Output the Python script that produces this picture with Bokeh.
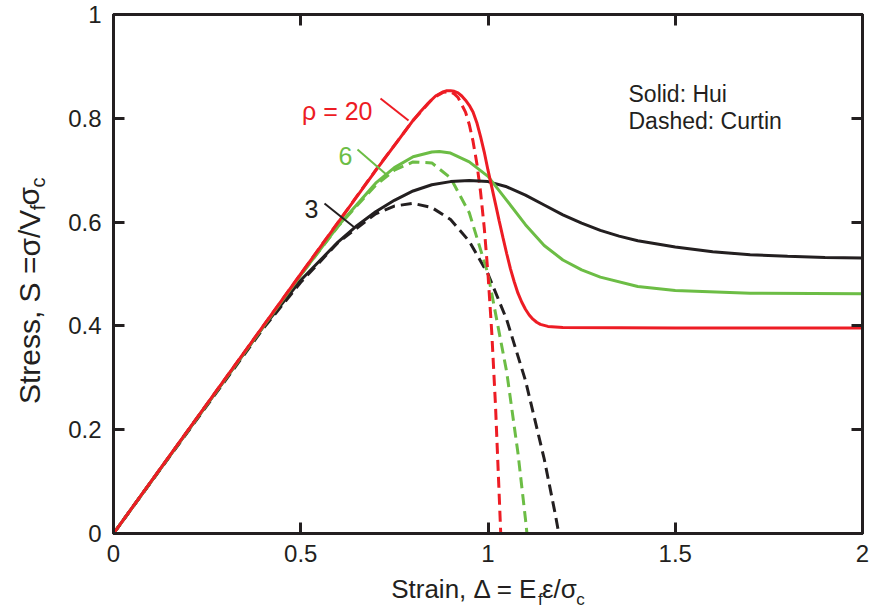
from bokeh.plotting import figure
from bokeh.models import Label, LinearAxis, FixedTicker, Range1d
from bokeh.embed import file_html
from bokeh.resources import INLINE

# ---------------- data ----------------
x_ticks = [0, 0.5, 1, 1.5, 2]
x_tick_labels = ["0", "0.5", "1", "1.5", "2"]
y_ticks = [0, 0.2, 0.4, 0.6, 0.8, 1]
y_tick_labels = ["0", "0.2", "0.4", "0.6", "0.8", "1"]

# axis titles: (text, is_subscript)
x_title_parts = [("Strain, Δ = E", False), ("f", True), ("ε/σ", False), ("c", True)]
y_title_parts = [("Stress, S =σ/V", False), ("f", True), ("σ", False), ("c", True)]

# Hui model (solid)
hui20_x = [0, 0.5, 0.7, 0.8, 0.82, 0.84, 0.86, 0.88, 0.89, 0.9, 0.91, 0.92, 0.93, 0.94,
           0.95, 0.96, 0.97, 0.98, 0.99, 1.0, 1.01, 1.02, 1.03, 1.04, 1.05, 1.06, 1.07,
           1.08, 1.09, 1.1, 1.11, 1.12, 1.13, 1.14, 1.16, 1.2, 1.5, 2.0]
hui20_y = [0, 0.5, 0.699, 0.796, 0.813, 0.829, 0.843, 0.851, 0.853, 0.853, 0.852, 0.849,
           0.843, 0.835, 0.825, 0.812, 0.792, 0.765, 0.735, 0.70, 0.668, 0.635, 0.602,
           0.57, 0.539, 0.51, 0.485, 0.463, 0.446, 0.432, 0.421, 0.413, 0.407, 0.403,
           0.399, 0.397, 0.396, 0.396]

hui6_x = [0, 0.5, 0.6, 0.7, 0.75, 0.8, 0.85, 0.87, 0.9, 0.95, 1.0, 1.05, 1.1, 1.15, 1.2,
          1.25, 1.3, 1.4, 1.5, 1.7, 2.0]
hui6_y = [0, 0.498, 0.593, 0.675, 0.705, 0.726, 0.735, 0.736, 0.733, 0.716, 0.688, 0.642,
          0.595, 0.555, 0.527, 0.508, 0.494, 0.476, 0.468, 0.463, 0.462]

hui3_x = [0, 0.4, 0.5, 0.55, 0.6, 0.65, 0.7, 0.75, 0.8, 0.85, 0.9, 0.95, 1.0, 1.05, 1.1,
          1.15, 1.2, 1.25, 1.3, 1.35, 1.4, 1.5, 1.6, 1.7, 1.8, 1.9, 2.0]
hui3_y = [0, 0.398, 0.488, 0.525, 0.562, 0.593, 0.62, 0.642, 0.66, 0.672, 0.678, 0.68,
          0.678, 0.668, 0.652, 0.633, 0.614, 0.598, 0.584, 0.573, 0.564, 0.552, 0.543,
          0.537, 0.534, 0.532, 0.531]

# Curtin model (dashed)
curtin20_x = [0, 0.5, 0.7, 0.8, 0.85, 0.86, 0.88, 0.89, 0.9, 0.91, 0.92, 0.94, 0.95, 0.96,
              0.97, 0.98, 0.99, 1.0, 1.01, 1.02, 1.03, 1.034]
curtin20_y = [0, 0.5, 0.7, 0.796, 0.836, 0.842, 0.85, 0.851, 0.851, 0.847, 0.84, 0.812,
              0.788, 0.756, 0.714, 0.659, 0.589, 0.5, 0.388, 0.247, 0.072, 0]

curtin6_x = [0, 0.5, 0.6, 0.7, 0.75, 0.8, 0.85, 0.9, 0.95, 1.0, 1.05, 1.08, 1.1, 1.104]
curtin6_y = [0, 0.498, 0.592, 0.671, 0.70, 0.716, 0.714, 0.685, 0.618, 0.5, 0.311, 0.155,
             0.028, 0]

curtin3_x = [0, 0.4, 0.5, 0.6, 0.7, 0.75, 0.8, 0.85, 0.9, 0.95, 1.0, 1.05, 1.1, 1.15,
             1.18, 1.189]
curtin3_y = [0, 0.395, 0.484, 0.561, 0.616, 0.631, 0.636, 0.628, 0.605, 0.563, 0.5, 0.412,
             0.295, 0.144, 0.036, 0]

RED = "#ED1C24"
GREEN = "#6CBD45"
BLACK = "#231F20"
FONT = "Liberation Sans"

# ---------------- layout constants ----------------
W, H = 871, 613
L, R, T, B = 113, 9, 14, 80
FW, FH = W - L - R, H - T - B


def px2x(px):
    return (px - L) / FW * 2.0


def py2y(py):
    return (H - B - py) / FH * 1.0


p = figure(width=W, height=H, x_range=Range1d(0, 2), y_range=Range1d(0, 1),
           output_backend="svg", toolbar_location=None,
           min_border_left=L, min_border_right=R, min_border_top=T, min_border_bottom=B,
           background_fill_color="white", border_fill_color="white")
p.grid.visible = False
p.outline_line_color = BLACK
p.outline_line_width = 3

xaxis = p.below[0]
yaxis = p.left[0]
top_axis = LinearAxis()
right_axis = LinearAxis()
p.add_layout(top_axis, "above")
p.add_layout(right_axis, "right")

TICK_FS = 24


def style_axis(ax, ticks, labels, show, standoff):
    ax.ticker = FixedTicker(ticks=ticks)
    ax.axis_line_color = BLACK
    ax.axis_line_width = 3
    ax.major_tick_line_color = BLACK
    ax.major_tick_line_width = 3
    ax.major_tick_in = 11
    ax.major_tick_out = 0
    ax.minor_tick_in = 0
    ax.minor_tick_out = 0
    ax.minor_tick_line_color = None
    if show:
        ax.major_label_overrides = dict(zip(ticks, labels))
        ax.major_label_text_font = FONT
        ax.major_label_text_font_size = f"{TICK_FS}px"
        ax.major_label_text_color = BLACK
        ax.major_label_standoff = standoff
    else:
        ax.major_label_text_font_size = "0px"
        ax.major_label_text_color = None
        ax.major_label_standoff = 0


style_axis(xaxis, x_ticks, x_tick_labels, True, 11)
style_axis(yaxis, y_ticks, y_tick_labels, True, 12)
style_axis(top_axis, x_ticks, x_tick_labels, False, 0)
style_axis(right_axis, y_ticks, y_tick_labels, False, 0)

# ---------------- curves ----------------
dash = "11 6"
p.line(curtin3_x, curtin3_y, line_color=BLACK, line_width=3, line_dash=dash)
p.line(curtin6_x, curtin6_y, line_color=GREEN, line_width=3, line_dash=dash)
p.line(curtin20_x, curtin20_y, line_color=RED, line_width=3, line_dash=dash)
p.line(hui3_x, hui3_y, line_color=BLACK, line_width=3)
p.line(hui6_x, hui6_y, line_color=GREEN, line_width=3)
p.line(hui20_x, hui20_y, line_color=RED, line_width=3)

# ---------------- leader lines and curve labels ----------------
p.segment(x0=[px2x(380), px2x(357), px2x(324)], y0=[py2y(98), py2y(149), py2y(203)],
          x1=[px2x(408), px2x(387), px2x(354)], y1=[py2y(120), py2y(175), py2y(227)],
          line_color=[RED, GREEN, BLACK], line_width=2)

for txt, col, px, py, align in [("ρ = 20", RED, 372, 110, "right"),
                                ("6", GREEN, 345, 155, "center"),
                                ("3", BLACK, 311, 208, "center")]:
    p.add_layout(Label(x=px2x(px), y=py2y(py), text=txt, text_color=col,
                       text_font=FONT, text_font_size="25px", text_align=align,
                       text_baseline="alphabetic"))

for txt, py in [("Solid: Hui", 93), ("Dashed: Curtin", 120)]:
    p.add_layout(Label(x=px2x(628), y=py2y(py), text=txt, text_color=BLACK,
                       text_font=FONT, text_font_size="23px", text_align="left",
                       text_baseline="alphabetic"))

# ---------------- axis titles (built from extra label-only axes) ----------------
EM = {"S": .667, "t": .278, "r": .333, "a": .556, "i": .222, "n": .556, ",": .278,
      " ": .278, "Δ": .668, "=": .584, "E": .667, "f": .278, "ε": .446, "/": .278,
      "σ": .573, "c": .5, "e": .556, "s": .5, "V": .667}


def tw(s, size):
    return sum(EM.get(ch, 0.55) for ch in s) * size


def piece_centers(parts, start, direction, main, sub):
    out_main, out_sub = [], []
    cur = start
    for txt, is_sub in parts:
        w = tw(txt, sub if is_sub else main)
        (out_sub if is_sub else out_main).append((cur + direction * w / 2, txt))
        cur += direction * w
    return out_main, out_sub


def title_axis(items, conv, size, standoff, orientation):
    ticks = [conv(c) for c, _ in items]
    labels = [t for _, t in items]
    return LinearAxis(ticker=FixedTicker(ticks=ticks),
                      major_label_overrides=dict(zip(ticks, labels)),
                      axis_line_color=None, major_tick_line_color=None,
                      minor_tick_line_color=None, major_tick_in=0, major_tick_out=0,
                      minor_tick_in=0, minor_tick_out=0,
                      major_label_text_font=FONT, major_label_text_font_size=f"{size}px",
                      major_label_text_color=BLACK, major_label_standoff=standoff,
                      major_label_orientation=orientation)


# x title, centred under the frame (subscript axis first, main axis pulled back)
XMAIN, XSUB = 26, 17
tot = sum(tw(t, XSUB if s else XMAIN) for t, s in x_title_parts)
xm, xs = piece_centers(x_title_parts, L + FW / 2 - tot / 2, 1, XMAIN, XSUB)
p.add_layout(title_axis(xs, px2x, XSUB, 25, "horizontal"), "below")
p.add_layout(title_axis(xm, px2x, XMAIN, -38, "horizontal"), "below")

# y title, reading bottom to top
YMAIN, YSUB = 30, 20
tot = sum(tw(t, YSUB if s else YMAIN) for t, s in y_title_parts)
ym, ys = piece_centers(y_title_parts, 290 + tot / 2, -1, YMAIN, YSUB)
p.add_layout(title_axis(ym, py2y, YMAIN, 20, "vertical"), "left")
p.add_layout(title_axis(ys, py2y, YSUB, -40, "vertical"), "left")

open("out.html", "w").write(file_html(p, INLINE))
